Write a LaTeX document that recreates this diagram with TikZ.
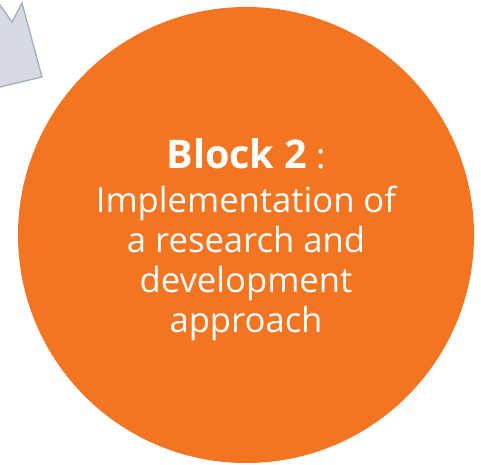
\documentclass[tikz,border=0pt]{standalone}
\usepackage{fontspec}
\setmainfont{Open Sans}
\definecolor{blockorange}{HTML}{F37521}
\definecolor{arrowfill}{HTML}{D5DBE0}
\definecolor{arrowline}{HTML}{A3AFBB}
\begin{document}
\begin{tikzpicture}[x=1pt,y=1pt,
  blockcircle/.style={circle,fill=blockorange,draw=none,minimum size=456pt,inner sep=0pt},
  blocktext/.style={text=white,align=center,font=\fontsize{34.6}{40}\selectfont},
  grayarrow/.style={fill=arrowfill,draw=arrowline,line width=1.3pt,line join=miter}]
\useasboundingbox (0,0) rectangle (481,464);
\begin{scope}
\clip (0,0) rectangle (481,464);
\draw[grayarrow] (-5,459) -- (0,459) -- (12,442) -- (22,461) -- (42,387) -- (0,377) -- (-5,376);
\end{scope}
\node[blockcircle] (blk) at (246,229) {};
\node[blocktext] (lbl) at (246,224) {{\fontsize{39.5}{44}\selectfont\textbf{Block 2}} :\\[4pt]Implementation of\\a research and\\development\\approach};
\end{tikzpicture}
\end{document}
